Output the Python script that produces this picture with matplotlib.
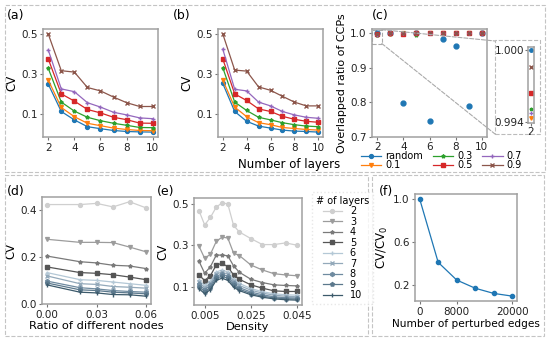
import matplotlib
matplotlib.use("Agg")
import matplotlib.pyplot as plt
from matplotlib.patches import Rectangle, ConnectionPatch

W, H = 550, 343

# ---- data ----
layers = [2, 3, 4, 5, 6, 7, 8, 9, 10]
ratio_labels = ["random", "0.1", "0.3", "0.5", "0.7", "0.9"]

# (a)
a_random = [0.249, 0.112, 0.070, 0.036, 0.026, 0.017, 0.012, 0.010, 0.009]
a_01 = [0.269, 0.132, 0.086, 0.053, 0.041, 0.029, 0.022, 0.017, 0.016]
a_03 = [0.328, 0.159, 0.114, 0.083, 0.066, 0.053, 0.043, 0.032, 0.031]
a_05 = [0.375, 0.200, 0.164, 0.122, 0.105, 0.083, 0.071, 0.054, 0.053]
a_07 = [0.420, 0.225, 0.211, 0.156, 0.134, 0.108, 0.095, 0.080, 0.076]
a_09 = [0.500, 0.316, 0.309, 0.232, 0.215, 0.184, 0.156, 0.137, 0.137]

# (b)
b_random = [0.252, 0.112, 0.063, 0.039, 0.029, 0.019, 0.014, 0.012, 0.009]
b_01 = [0.269, 0.134, 0.086, 0.056, 0.046, 0.032, 0.027, 0.022, 0.019]
b_03 = [0.331, 0.159, 0.117, 0.083, 0.070, 0.056, 0.046, 0.039, 0.036]
b_05 = [0.375, 0.200, 0.167, 0.125, 0.112, 0.088, 0.073, 0.063, 0.058]
b_07 = [0.424, 0.223, 0.215, 0.159, 0.140, 0.112, 0.095, 0.083, 0.078]
b_09 = [0.500, 0.319, 0.314, 0.235, 0.218, 0.188, 0.159, 0.140, 0.140]

# (c)
c_random = [1.000, 1.000, 0.797, 1.000, 0.747, 0.982, 0.963, 0.789, 1.000]
c_01 = [0.9943, 0.998, 1.000, 1.000, 1.000, 1.000, 1.000, 1.000, 1.000]
c_03 = [0.9951, 1.000, 1.000, 0.995, 1.000, 1.000, 1.000, 1.000, 1.000]
c_05 = [0.9964, 1.000, 0.997, 1.000, 1.000, 1.000, 1.000, 1.000, 1.000]
c_07 = [0.9947, 1.000, 1.000, 1.000, 1.000, 1.000, 1.000, 1.000, 1.000]
c_09 = [0.9986, 1.000, 1.000, 1.000, 1.000, 1.000, 1.000, 1.000, 1.000]

# (d)
diff_ratio = [0.00, 0.02, 0.03, 0.04, 0.05, 0.06]
d_cv = {
    2: [0.421, 0.421, 0.426, 0.411, 0.433, 0.407],
    3: [0.274, 0.261, 0.261, 0.260, 0.241, 0.221],
    4: [0.203, 0.179, 0.174, 0.164, 0.161, 0.150],
    5: [0.157, 0.133, 0.130, 0.124, 0.114, 0.103],
    6: [0.133, 0.103, 0.100, 0.093, 0.086, 0.079],
    7: [0.119, 0.086, 0.083, 0.074, 0.071, 0.067],
    8: [0.097, 0.069, 0.064, 0.057, 0.053, 0.050],
    9: [0.089, 0.060, 0.057, 0.050, 0.047, 0.043],
    10: [0.081, 0.050, 0.047, 0.040, 0.039, 0.033],
}

# (e)
density = [0.0025, 0.005, 0.0075, 0.01, 0.0125, 0.015, 0.0175, 0.02,
           0.025, 0.03, 0.035, 0.04, 0.045]
e_cv = {
    2: [0.468, 0.398, 0.435, 0.484, 0.505, 0.500, 0.396, 0.364, 0.332, 0.303, 0.303, 0.311, 0.300],
    3: [0.296, 0.236, 0.257, 0.318, 0.339, 0.335, 0.262, 0.250, 0.204, 0.180, 0.162, 0.156, 0.152],
    4: [0.223, 0.164, 0.196, 0.252, 0.252, 0.249, 0.200, 0.169, 0.135, 0.119, 0.108, 0.105, 0.103],
    5: [0.156, 0.129, 0.153, 0.204, 0.212, 0.196, 0.156, 0.135, 0.108, 0.092, 0.079, 0.076, 0.076],
    6: [0.130, 0.105, 0.125, 0.170, 0.180, 0.170, 0.135, 0.115, 0.090, 0.075, 0.065, 0.060, 0.058],
    7: [0.120, 0.095, 0.115, 0.160, 0.170, 0.160, 0.125, 0.105, 0.082, 0.068, 0.058, 0.053, 0.050],
    8: [0.110, 0.085, 0.105, 0.150, 0.160, 0.150, 0.115, 0.095, 0.073, 0.060, 0.050, 0.046, 0.044],
    9: [0.100, 0.075, 0.095, 0.140, 0.150, 0.140, 0.105, 0.087, 0.066, 0.053, 0.045, 0.041, 0.039],
    10: [0.090, 0.065, 0.085, 0.130, 0.140, 0.130, 0.097, 0.080, 0.060, 0.048, 0.040, 0.036, 0.034],
}

# (f)
perturbed = [0, 4000, 8000, 12000, 16000, 20000]
cv_ratio = [1.0, 0.412, 0.248, 0.172, 0.124, 0.099]

# ---- styles ----
ratio_colors = ["tab:blue", "tab:orange", "tab:green", "tab:red", "tab:purple", "tab:brown"]
ratio_markers = ["o", "v", "*", "s", "+", "x"]
layer_colors = {2: "#cfcfcf", 3: "#9c9c9c", 4: "#7a7a7a", 5: "#555555", 6: "#b4c8d6",
                7: "#93a9ba", 8: "#6f8ba0", 9: "#5b788c", 10: "#3c5a6b"}
layer_markers = {2: "o", 3: "v", 4: "*", 5: "s", 6: "+", 7: "x", 8: "h", 9: "p", 10: "|"}

plt.rcParams["font.family"] = "DejaVu Sans"
plt.rcParams["axes.edgecolor"] = "#a0a0a0"
plt.rcParams["axes.linewidth"] = 1.1
plt.rcParams["xtick.color"] = "#777777"
plt.rcParams["ytick.color"] = "#777777"
plt.rcParams["xtick.labelcolor"] = "#222222"
plt.rcParams["ytick.labelcolor"] = "#222222"

fig = plt.figure(figsize=(W / 100, H / 100), dpi=100)


def px_axes(x0, y0, x1, y1):
    return fig.add_axes([x0 / W, 1 - y1 / H, (x1 - x0) / W, (y1 - y0) / H])


def style(ax):
    ax.tick_params(labelsize=7.5, length=2.5, width=0.8, pad=1.5)


def panel_label(x, y, text):
    fig.text(x / W, 1 - y / H, text, fontsize=9, ha="left", va="center")


# (a) and (b)
handles = []
for k, (x0, x1, series) in enumerate([
        (43, 158, [a_random, a_01, a_03, a_05, a_07, a_09]),
        (218, 323, [b_random, b_01, b_03, b_05, b_07, b_09])]):
    ax = px_axes(x0, 29, x1, 137)
    for vals, col, mk in zip(series, ratio_colors, ratio_markers):
        ms = 3.5 if mk == "s" else 2.8
        ln, = ax.plot(layers, vals, color=col, marker=mk, ms=ms, lw=0.9)
        if k == 0:
            handles.append(ln)
    ax.set_yticks([0.1, 0.3, 0.5])
    ax.set_xticks([2, 4, 6, 8, 10])
    ax.set_ylabel("CV", fontsize=8.5, labelpad=2)
    style(ax)
    if k == 1:
        ax.set_xlabel("Number of layers", fontsize=8.5)
        ax.xaxis.set_label_coords((289 - x0) / (x1 - x0), -0.19)

# (c)
ax_c = px_axes(372, 29, 487, 137)
for vals, col, mk in zip([c_random, c_01, c_03, c_05, c_07, c_09], ratio_colors, ratio_markers):
    ms = 3.5 if mk in ("o", "s") else 2.8
    ax_c.plot(layers, vals, color=col, marker=mk, ms=ms, ls="none")
ax_c.set_ylim(0.7, 1.012)
ax_c.set_yticks([0.7, 0.8, 0.9, 1.0])
ax_c.set_xticks([2, 4, 6, 8, 10])
ax_c.set_ylabel("Overlapped ratio of CCPs", fontsize=8, labelpad=2)
style(ax_c)
ax_c.tick_params(axis="x", pad=1)
ax_c.add_patch(Rectangle((1.62, 0.97), 0.73, 0.04, fill=False, ec="#aaaaaa", ls="--", lw=0.8))

# zoomed inset of layer 2
ax_in = px_axes(528, 47, 534, 123)
for vals, col, mk in zip([c_random, c_01, c_03, c_05, c_07, c_09], ratio_colors, ratio_markers):
    ax_in.plot(layers[:1], vals[:1], color=col, marker=mk, ms=2.5, ls="none")
ax_in.set_xlim(1.9, 2.1)
ax_in.set_ylim(0.9939, 1.00025)
ax_in.set_yticks([0.994, 1.000])
ax_in.set_yticklabels(["0.994", "1.000"])
ax_in.set_xticks([2])
ax_in.tick_params(labelsize=7.5, length=2, pad=1)

fig.add_artist(Rectangle((495 / W, 1 - 134 / H), 45 / W, 94 / H, transform=fig.transFigure,
                         fill=False, ec="#bbbbbb", ls="--", lw=0.8))
for xyA, xyB in [((2.35, 1.01), (495, 41)), ((2.35, 0.97), (495, 134))]:
    fig.add_artist(ConnectionPatch(xyA=xyA, coordsA=ax_c.transData,
                                   xyB=(xyB[0] / W, 1 - xyB[1] / H), coordsB=fig.transFigure,
                                   color="#aaaaaa", ls="--", lw=0.8))

fig.legend(handles, ratio_labels, ncol=3, loc="upper left",
           bbox_to_anchor=(361 / W, 1 - 151 / H), frameon=False, fontsize=7,
           handlelength=2.1, columnspacing=1.0, labelspacing=-0.1, handletextpad=0.4,
           borderpad=0, borderaxespad=0)

# (d)
ax_d = px_axes(42, 197, 151, 304)
for n in layers:
    ax_d.plot(diff_ratio, d_cv[n], color=layer_colors[n], marker=layer_markers[n], ms=2.8, lw=0.9)
ax_d.set_ylim(0, 0.453)
ax_d.set_yticks([0.0, 0.2, 0.4])
ax_d.set_xticks([0.0, 0.03, 0.06])
ax_d.set_xticklabels(["0.00", "0.03", "0.06"])
ax_d.set_ylabel("CV", fontsize=8.5, labelpad=2)
ax_d.set_xlabel("Ratio of different nodes", fontsize=8.2, labelpad=1)
style(ax_d)

# (e)
ax_e = px_axes(194, 198, 302, 305)
e_handles = []
for n in layers:
    ln, = ax_e.plot(density, e_cv[n], color=layer_colors[n], marker=layer_markers[n], ms=2.8, lw=0.9)
    e_handles.append(ln)
ax_e.set_yticks([0.1, 0.3, 0.5])
ax_e.set_xticks([0.005, 0.025, 0.045])
ax_e.set_ylabel("CV", fontsize=8.5, labelpad=2)
ax_e.set_xlabel("Density", fontsize=8.2, labelpad=1)
style(ax_e)
leg = fig.legend(e_handles, [str(n) for n in layers], title="# of layers",
                 loc="upper left", bbox_to_anchor=(307 / W, 1 - 187 / H),
                 fontsize=7, title_fontsize=7, labelspacing=0.05, handlelength=2,
                 handletextpad=0.8, borderpad=0.4, fancybox=False)
leg.get_frame().set_edgecolor("#e2e2e2")
leg.get_frame().set_linestyle(":")

# (f)
ax_f = px_axes(415, 194, 517, 301)
ax_f.plot(perturbed, cv_ratio, color="tab:blue", marker="o", ms=3, lw=0.9)
ax_f.set_yticks([0.2, 0.6, 1.0])
ax_f.set_xticks([0, 8000, 20000])
ax_f.set_ylabel("CV/CV$_0$", fontsize=8.5, labelpad=2)
ax_f.set_xlabel("Number of perturbed edges", fontsize=7.6, labelpad=1.5)
style(ax_f)

# panel labels
panel_label(7, 16, "(a)")
panel_label(173, 16, "(b)")
panel_label(372, 16, "(c)")
panel_label(7, 192, "(d)")
panel_label(157, 192, "(e)")
panel_label(379, 191, "(f)")

# dashed frames around panel groups
for x0, y0, x1, y1 in [(5, 5, 545, 172), (5, 175, 368, 336), (372, 175, 544, 336)]:
    fig.add_artist(Rectangle((x0 / W, 1 - y1 / H), (x1 - x0) / W, (y1 - y0) / H,
                             transform=fig.transFigure, fill=False, ec="#c4c4c4",
                             ls="--", lw=0.8))

fig.savefig("out.png", dpi=100)
